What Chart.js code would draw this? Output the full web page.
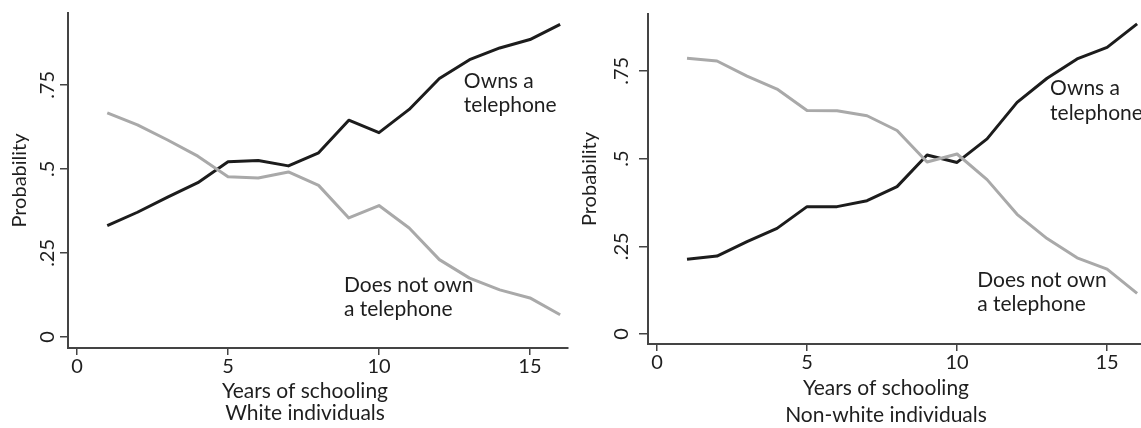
<!DOCTYPE html>
<html>
<head>
<meta charset="utf-8">
<script src="https://cdn.jsdelivr.net/npm/chart.js@4.4.0/dist/chart.umd.min.js"></script>
<style>
  body { margin: 0; background: #fff; }
  .wrap { display: flex; width: 1141px; height: 428px; }
  canvas { display: block; }
</style>
</head>
<body>
<div class="wrap">
  <canvas id="whiteChart" width="570" height="428"></canvas>
  <canvas id="nonwhiteChart" width="571" height="428"></canvas>
</div>
<script>
// DADOS
const years = [1, 2, 3, 4, 5, 6, 7, 8, 9, 10, 11, 12, 13, 14, 15, 16];

const whiteOwns    = [0.331, 0.371, 0.416, 0.459, 0.521, 0.525, 0.509, 0.548, 0.645, 0.608, 0.677, 0.769, 0.825, 0.860, 0.885, 0.930];
const whiteNotOwn  = [0.667, 0.631, 0.586, 0.538, 0.477, 0.473, 0.491, 0.451, 0.354, 0.391, 0.324, 0.230, 0.175, 0.140, 0.116, 0.066];

const nonwhiteOwns   = [0.213, 0.222, 0.263, 0.301, 0.363, 0.363, 0.380, 0.420, 0.510, 0.489, 0.556, 0.660, 0.729, 0.784, 0.817, 0.884];
const nonwhiteNotOwn = [0.786, 0.778, 0.735, 0.698, 0.637, 0.636, 0.622, 0.580, 0.490, 0.513, 0.440, 0.341, 0.272, 0.217, 0.185, 0.116];

const xTicks = [0, 5, 10, 15];
const yTicks = [0, 0.25, 0.5, 0.75];
const yTickLabels = ["0", ".25", ".5", ".75"];

const FONT = "Lato, 'Open Sans', sans-serif";
const TEXT = "#1e1e1e";
const AXIS = "#444";

function pts(ys) {
  return years.map((x, i) => ({ x: x, y: ys[i] }));
}

// TEXTOS (rótulos do eixo y, títulos do eixo x, anotações)
const textPlugin = {
  id: "textos",
  afterDraw(chart, args, opts) {
    const ctx = chart.ctx;
    const sx = chart.scales.x, sy = chart.scales.y;
    ctx.save();
    ctx.fillStyle = TEXT;
    ctx.font = "20px " + FONT;

    ctx.textAlign = "center";
    ctx.textBaseline = "middle";
    yTicks.forEach((v, i) => {
      ctx.save();
      ctx.translate(chart.chartArea.left - opts.yLabelGap, sy.getPixelForValue(v));
      ctx.rotate(-Math.PI / 2);
      ctx.fillText(yTickLabels[i], 0, 0);
      ctx.restore();
    });

    ctx.font = "21px " + FONT;
    ctx.textBaseline = "alphabetic";
    opts.xTitle.forEach((t, i) => ctx.fillText(t, opts.xTitleX, opts.xTitleY[i]));

    ctx.textAlign = "left";
    opts.notes.forEach(n => {
      const px = sx.getPixelForValue(n.x), py = sy.getPixelForValue(n.y);
      n.lines.forEach((l, j) => ctx.fillText(l, px, py + j * 24.5));
    });
    ctx.restore();
  }
};

function makeChart(id, owns, notOwn, o) {
  return new Chart(document.getElementById(id), {
    type: "line",
    data: {
      datasets: [
        { data: pts(notOwn), borderColor: "#a9a9a9", borderWidth: 3 },
        { data: pts(owns), borderColor: "#1c1c1c", borderWidth: 3 }
      ]
    },
    options: {
      responsive: false,
      animation: false,
      elements: {
        point: { radius: 0 },
        line: { tension: 0, borderJoinStyle: "round", fill: false }
      },
      layout: { padding: { left: 0, top: o.top, right: o.right, bottom: 0 } },
      plugins: {
        legend: { display: false },
        tooltip: { enabled: false },
        textos: o.text
      },
      scales: {
        x: {
          type: "linear",
          min: o.xMin, max: o.xMax,
          afterBuildTicks: s => { s.ticks = xTicks.map(v => ({ value: v })); },
          afterFit: s => { s.height = 428 - o.bottom; },
          border: { display: true, color: AXIS, width: 2 },
          grid: { drawOnChartArea: false, drawTicks: true, tickLength: 7, color: AXIS, lineWidth: 1.5 },
          ticks: { color: TEXT, font: { family: FONT, size: 20 }, padding: 0, maxRotation: 0, callback: v => String(v) }
        },
        y: {
          type: "linear",
          min: o.yMin, max: o.yMax,
          afterBuildTicks: s => { s.ticks = yTicks.map(v => ({ value: v })); },
          afterFit: s => { s.width = o.left; },
          border: { display: true, color: AXIS, width: 2 },
          grid: { drawOnChartArea: false, drawTicks: true, tickLength: o.yTick, color: AXIS, lineWidth: 1.5 },
          ticks: { display: false },
          title: { display: true, text: "Probability", color: TEXT, font: { family: FONT, size: 20 }, padding: { top: 8, bottom: 0 } }
        }
      }
    },
    plugins: [textPlugin]
  });
}

// GRÁFICO BRANCOS
makeChart("whiteChart", whiteOwns, whiteNotOwn, {
  left: 68, top: 13, right: 2, bottom: 348, yTick: 8,
  xMin: -0.3, xMax: 16.26, yMin: -0.033, yMax: 0.964,
  text: {
    yLabelGap: 20,
    xTitle: ["Years of schooling", "White individuals"],
    xTitleX: 305, xTitleY: [398, 420],
    notes: [
      { x: 12.81, y: 0.741, lines: ["Owns a", "telephone"] },
      { x: 8.84, y: 0.134, lines: ["Does not own", "a telephone"] }
    ]
  }
});

// GRÁFICO NÃO BRANCOS
makeChart("nonwhiteChart", nonwhiteOwns, nonwhiteNotOwn, {
  left: 78, top: 14, right: 0, bottom: 344, yTick: 9,
  xMin: -0.3, xMax: 16.13, yMin: -0.0285, yMax: 0.912,
  text: {
    yLabelGap: 26,
    xTitle: ["Years of schooling", "Non-white individuals"],
    xTitleX: 316, xTitleY: [395, 422],
    notes: [
      { x: 13.1, y: 0.681, lines: ["Owns a", "telephone"] },
      { x: 10.67, y: 0.134, lines: ["Does not own", "a telephone"] }
    ]
  }
});
</script>
</body>
</html>
